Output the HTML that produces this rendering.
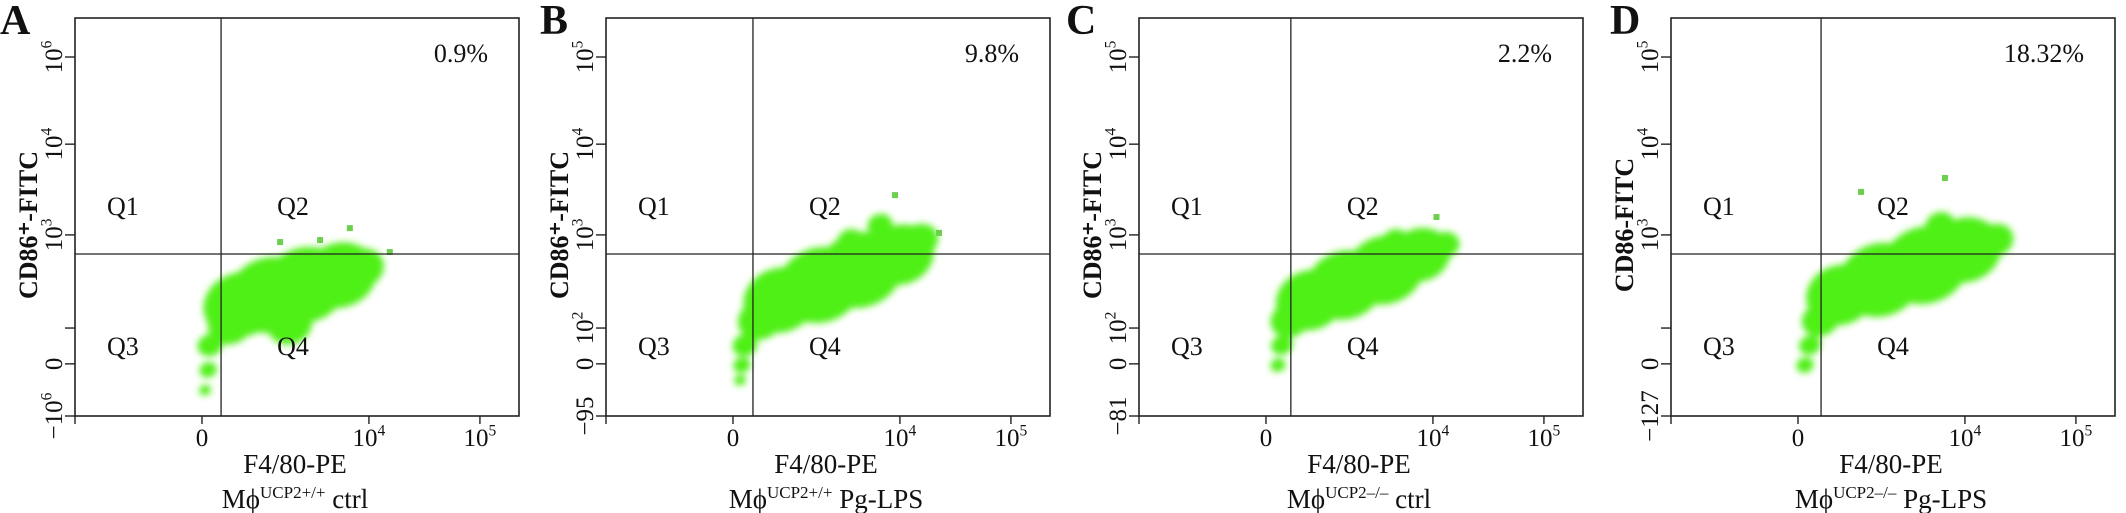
<!DOCTYPE html>
<html><head><meta charset="utf-8">
<style>
html,body{margin:0;padding:0;background:#fff;}
svg{display:block;font-family:"Liberation Serif",serif;}
</style></head>
<body>
<svg id="fig" width="2126" height="513" viewBox="0 0 2126 513" xmlns="http://www.w3.org/2000/svg">
<defs><filter id="soft" x="-20%" y="-20%" width="140%" height="140%"><feGaussianBlur stdDeviation="3.5"/></filter></defs>
</svg>
<script>
// ---- data ----
const panelLetters = ["A","B","C","D"];
const pctLabels = ["0.9%","9.8%","2.2%","18.32%"];
const yTitles = ["CD86\u207A-FITC","CD86\u207A-FITC","CD86\u207A-FITC","CD86-FITC"];
const sublabelPre = ["UCP2+/+","UCP2+/+","UCP2\u2013/\u2013","UCP2\u2013/\u2013"];
const sublabelPost = [" ctrl"," Pg-LPS"," ctrl"," Pg-LPS"];
const yTickPos = [90.2, 68.3, 45.5, 22.1, 13.1, 0];
const yTickLabels = [
  [["10","6"],["10","4"],["10","3"],null,["0",""],["\u221210","6"]],
  [["10","5"],["10","4"],["10","3"],["10","2"],["0",""],["\u221295",""]],
  [["10","5"],["10","4"],["10","3"],["10","2"],["0",""],["\u221281",""]],
  [["10","5"],["10","4"],["10","3"],null,["0",""],["\u2212127",""]]
];
const xTickPos = [0, 28.6, 66.2, 91.2];
const xTickLabels = [null, ["0",""], ["10","4"], ["10","5"]];
const gateX = [32.9, 33.1, 34.2, 33.8];
const gateY = [40.7, 40.7, 40.7, 40.7];
// cloud blobs per panel (axis units 0-100)
const cloudX = [
  [37.2,43.9,51.8,59.7,64.6,34.9,30.4,30.0,29.3,48.4],
  [39.2,48.2,57.2,66.2,70.7,34.7,31.3,30.6,30.2,55.0,61.7],
  [38.5,46.4,55.4,63.3,68.9,34.0,32.2,31.3,57.7],
  [38.1,47.1,57.2,66.2,73.0,33.6,31.3,30.2,60.6]
];
const cloudY = [
  [27.9,30.4,32.9,35.4,37.2,22.9,17.8,11.6,6.5,22.9],
  [29.1,32.9,36.7,40.5,44.2,24.1,17.8,12.8,9.0,44.2,48.0],
  [29.1,32.9,36.7,40.5,43.0,24.1,17.8,12.8,44.2],
  [30.4,34.2,37.9,41.7,44.2,24.1,17.8,12.8,48.0]
];
const cloudR = [
  [6.8,7.9,7.9,6.8,4.1,4.1,2.3,1.6,1.1,4.1],
  [6.8,7.9,7.9,6.3,3.4,4.1,2.3,1.6,1.1,2.3,2.3],
  [6.3,7.2,7.2,5.6,2.7,3.6,2.0,1.4,2.3],
  [6.3,7.7,8.1,6.8,3.4,3.4,2.0,1.6,2.7]
];
const dotX = [[55.2,46.2,61.9,70.9],[65.1,75.0],[67.0],[61.7,42.8]];
const dotY = [[44.2,43.7,47.2,41.2],[55.5,46.0],[50.0],[59.8,56.3]];

// ---- layout ----
const boxLeft = [75, 606, 1139, 1671];
const letterX = [0, 540, 1066, 1610];
const BW = 444, TOP = 18, BOT = 416, BH = BOT - TOP;
const NS = "http://www.w3.org/2000/svg";
const svg = document.getElementById("fig");
function sx(p, u){ return boxLeft[p] + u / 100 * BW; }
function sy(v){ return BOT - v / 100 * BH; }
function mk(tag, attrs, parent){
  const e = document.createElementNS(NS, tag);
  for (const k in attrs) e.setAttribute(k, attrs[k]);
  (parent || svg).appendChild(e); return e;
}
function supText(parent, x, y, base, sup, size, anchor, transform){
  const t = mk("text", {x:x, y:y, "font-size":size, "text-anchor":anchor||"middle", fill:"#111"}, parent);
  if (transform) t.setAttribute("transform", transform);
  t.appendChild(document.createTextNode(base));
  if (sup){
    const s = mk("tspan", {"font-size": size*0.62, dy: -size*0.42}, t);
    s.textContent = sup;
  }
  return t;
}

for (let p = 0; p < 4; p++){
  const g = mk("g", {});
  
  
  const L = boxLeft[p];

  // cloud
  const cg = mk("g", {filter:"url(#soft)"}, g);
  
  
  for (let i = 0; i < cloudX[p].length; i++){
    const cx = sx(p, cloudX[p][i]), cy = sy(cloudY[p][i]);
    const r = cloudR[p][i]/100*BW*1.12;
    const c = mk("ellipse", {cx: cx, cy: cy, rx: r*1.1, ry: r*0.95, fill:"#50f018",
      transform:"rotate(-20 " + cx + " " + cy + ")"}, cg);
    
    
  }
  for (let i = 0; i < dotX[p].length; i++){
    const d = mk("rect", {x: sx(p, dotX[p][i]) - 3, y: sy(dotY[p][i]) - 3, width:6, height:6, fill:"#6ccf50"}, g);
    
    
  }

  // box
  const box = mk("rect", {x:L, y:TOP, width:BW, height:BH, fill:"none", stroke:"#222", "stroke-width":1.6}, g);
  
  

  // gates
  const vl = mk("line", {x1:sx(p,gateX[p]), x2:sx(p,gateX[p]), y1:TOP, y2:BOT, stroke:"#222", "stroke-width":1.3}, g);
  
  
  const hl = mk("line", {x1:L, x2:L+BW, y1:sy(gateY[p]), y2:sy(gateY[p]), stroke:"#222", "stroke-width":1.3}, g);
  
  

  // y ticks
  for (let i = 0; i < yTickPos.length; i++){
    const y = sy(yTickPos[i]);
    const tk = mk("line", {x1:L-10, x2:L, y1:y, y2:y, stroke:"#222", "stroke-width":1.4}, g);
    
    
    const lab = yTickLabels[p][i];
    if (lab){
      const t = supText(g, L-21, y, lab[0], lab[1], 25, "middle", "rotate(-90 " + (L-21) + " " + y + ")");
      t.setAttribute("dy", 8);
      
      
    }
  }
  // x ticks
  for (let i = 0; i < xTickPos.length; i++){
    const x = sx(p, xTickPos[i]);
    const tk = mk("line", {x1:x, x2:x, y1:BOT, y2:BOT+8, stroke:"#222", "stroke-width":1.4}, g);
    
    
    const lab = xTickLabels[i];
    if (lab){
      const t = supText(g, x, 446, lab[0], lab[1], 25, "middle");
      
      
    }
  }

  // quadrant labels
  const gxp = sx(p, gateX[p]);
  [["Q1", L+32, 215],["Q2", gxp+56, 215],["Q3", L+32, 355],["Q4", gxp+56, 355]].forEach(q => {
    const t = mk("text", {x:q[1], y:q[2], "font-size":26, fill:"#111"}, g);
    t.textContent = q[0];
    
    
  });
  // percentage
  const pt = mk("text", {x:L+BW-31, y:62, "font-size":26, "text-anchor":"end", fill:"#111"}, g);
  pt.textContent = pctLabels[p];
  
  

  // panel letter
  const lt = mk("text", {x:letterX[p], y:34, "font-size":42, "font-weight":"bold", fill:"#111"}, g);
  lt.textContent = panelLetters[p];
  
  

  // y title
  const yc = 225, xc = L-47;
  const yt = mk("text", {x:xc, y:yc, "font-size":26, "font-weight":"bold", "text-anchor":"middle", fill:"#111",
    transform:"rotate(-90 " + xc + " " + yc + ")", dy:9}, g);
  yt.textContent = yTitles[p];
  
  

  // x title
  const cx = L + BW/2 - 2;
  const xt = mk("text", {x:cx, y:473, "font-size":27, "text-anchor":"middle", fill:"#111"}, g);
  xt.textContent = "F4/80-PE";
  
  

  const st = mk("text", {x:cx, y:508, "font-size":27, "text-anchor":"middle", fill:"#111"}, g);
  st.appendChild(document.createTextNode("M\u03D5"));
  const sp = mk("tspan", {"font-size":17, dy:-10}, st);
  sp.textContent = sublabelPre[p];
  const sp2 = mk("tspan", {dy:10}, st);
  sp2.textContent = sublabelPost[p];
  
  
}
</script>
</body></html>
